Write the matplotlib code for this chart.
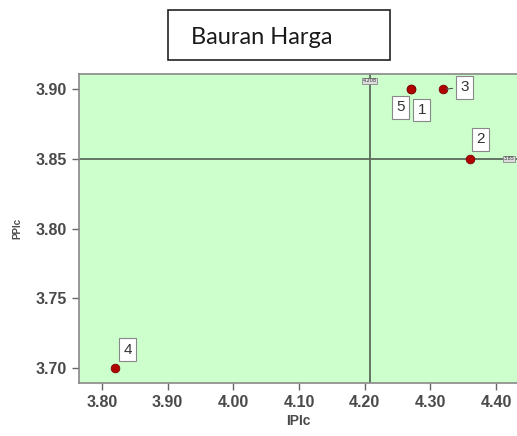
import numpy as np
import matplotlib.pyplot as plt

# case numbers and their coordinates
labels = ["1", "2", "3", "4", "5"]
ipic = [4.27, 4.36, 4.32, 3.82, 4.27]
ppic = [3.90, 3.85, 3.90, 3.70, 3.90]

x_ticks = [3.80, 3.90, 4.00, 4.10, 4.20, 4.30, 4.40]
y_ticks = [3.70, 3.75, 3.80, 3.85, 3.90]

GREEN = "#ccffcc"
LINE = "#5a6a5a"
TEXT = "#4a4a4a"
FONT = "Liberation Sans"

fig = plt.figure(figsize=(5.17, 4.36), dpi=100)
ax = fig.add_axes([79 / 517, 1 - 383 / 436, 1 - 79 / 517, (383 - 74) / 436])
ax.set_facecolor(GREEN)

x_mean = np.mean(ipic)
y_mean = np.mean(ppic)
ax.axvline(x_mean, color=LINE, lw=1.3, zorder=1)
ax.axhline(y_mean, color=LINE, lw=1.3, zorder=1)

ax.scatter(ipic, ppic, s=40, color="#b00000", edgecolor="#700000",
           linewidth=0.5, zorder=3)

box = dict(boxstyle="square,pad=0.28", fc="white", ec="#888888", lw=0.8)
# label offsets in points (dx, dy)
offsets = {"1": (8, -15), "2": (8, 14), "3": (15, 1.5), "4": (9, 13),
           "5": (-7, -13)}
for lab, x, y in zip(labels, ipic, ppic):
    dx, dy = offsets[lab]
    arrow = dict(arrowstyle="-", color="#555555", lw=0.8) if lab == "3" else None
    ax.annotate(lab, (x, y), xytext=(dx, dy), textcoords="offset points",
                ha="center", va="center", fontsize=11, family=FONT,
                color="#333333", bbox=box, arrowprops=arrow, zorder=4)

small_box = dict(boxstyle="square,pad=0.1", fc="#dddddd", ec="#888888", lw=0.6)
ax.text(x_mean, 3.906, "{:.3f}".format(x_mean), fontsize=3.5, ha="center",
        va="center", color="#333333", bbox=small_box, zorder=4)
ax.text(4.42, y_mean, "{:.2f}".format(y_mean), fontsize=3.5, ha="center",
        va="center", color="#333333", bbox=small_box, zorder=4)

ax.set_xlim(3.765, 4.432)
ax.set_ylim(3.689, 3.911)
ax.set_xticks(x_ticks)
ax.set_xticklabels(["{:.2f}".format(v) for v in x_ticks])
ax.set_yticks(y_ticks)
ax.set_yticklabels(["{:.2f}".format(v) for v in y_ticks])
ax.tick_params(colors="#666666", labelcolor=TEXT, labelsize=11.5, length=5,
               width=1)
for t in ax.get_xticklabels() + ax.get_yticklabels():
    t.set_fontweight("bold")
    t.set_family(FONT)
for side in ["left", "bottom", "top"]:
    ax.spines[side].set_color("#888888")
    ax.spines[side].set_linewidth(1.2)
ax.spines["right"].set_visible(False)

ax.set_xlabel("IPIc", fontsize=10, fontweight="bold", family=FONT,
              color=TEXT, labelpad=3)
ax.set_ylabel("PPIc", fontsize=7, fontweight="bold", family=FONT,
              color=TEXT, labelpad=10)

fig.text(262 / 517, 1 - 37 / 436, "Bauran Harga", fontsize=17,
         family="Lato", ha="center", va="center", color="#1a1a1a")
fig.patches.append(plt.Rectangle((168 / 517, 1 - 60 / 436), 222 / 517,
                                 50 / 436, transform=fig.transFigure,
                                 fill=False, ec="#222222", lw=1.2))

fig.savefig("out.png", dpi=100)
